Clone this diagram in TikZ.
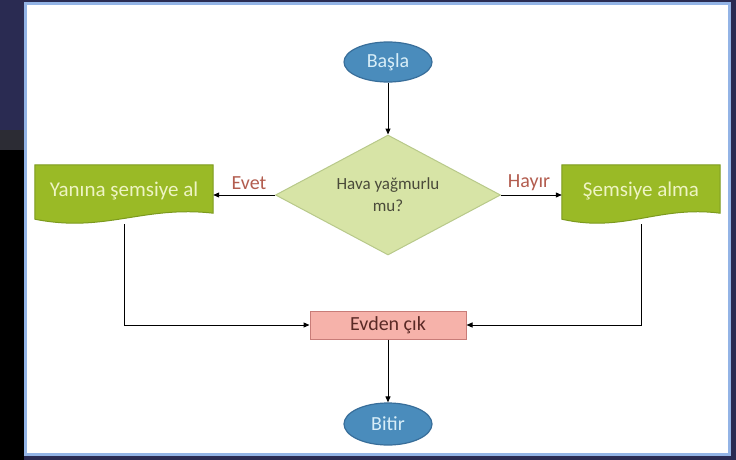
\documentclass[tikz,border=0pt]{standalone}
\usepackage{fontspec}
\setmainfont{Carlito}
\usetikzlibrary{shapes.geometric,arrows.meta,backgrounds}
\pgfdeclarelayer{bottom}
\pgfsetlayers{bottom,background,main}
\definecolor{navybg}{HTML}{2A2B52}
\definecolor{darkgr}{HTML}{2C2C34}
\definecolor{panelb}{HTML}{93B4E6}
\definecolor{ellfill}{HTML}{4A8CBC}
\definecolor{elldraw}{HTML}{386E9A}
\definecolor{elltext}{HTML}{D8EEF8}
\definecolor{diafill}{HTML}{D7E4A6}
\definecolor{diadraw}{HTML}{B8C98A}
\definecolor{diatext}{HTML}{4A4A3A}
\definecolor{grfill}{HTML}{9ABA26}
\definecolor{grdraw}{HTML}{7C9A1E}
\definecolor{grtext}{HTML}{EEF4C4}
\definecolor{pkfill}{HTML}{F6B2AA}
\definecolor{pkdraw}{HTML}{C87C78}
\definecolor{pktext}{HTML}{5A2A26}
\definecolor{lbl}{HTML}{B35D4F}
\begin{document}
\begin{tikzpicture}[x=1pt,y=-1pt,
  term/.style={ellipse,minimum width=88pt,minimum height=40pt,inner sep=0pt,
    fill=ellfill,draw=elldraw,line width=1.2pt,text=elltext,
    font=\fontsize{20}{20}\selectfont},
  decision/.style={diamond,aspect=1.875,minimum width=225pt,minimum height=120pt,inner sep=0pt,
    fill=diafill,draw=diadraw,line width=1pt,text=diatext,align=center,
    font=\fontsize{17}{22}\selectfont},
  doc/.style={rectangle,minimum height=52pt,inner sep=0pt,text=grtext,
    font=\fontsize{21}{21}\selectfont},
  docshape/.style={fill=grfill,draw=grdraw,line width=1pt},
  procbox/.style={rectangle,minimum width=156pt,minimum height=28pt,inner sep=0pt,
    fill=pkfill,draw=pkdraw,line width=1pt,text=pktext,
    font=\fontsize{20}{20}\selectfont},
  arr/.style={draw=black,line width=1pt,-{Triangle[length=6pt,width=5pt]}},
  elabel/.style={text=lbl,font=\fontsize{20}{20}\selectfont,inner sep=0pt}
]
\useasboundingbox (0,0) rectangle (736,460);
\begin{pgfonlayer}{bottom}
\fill[navybg] (0,0) rectangle (736,460);
\fill[darkgr] (0,130) rectangle (24,150);
\fill[black] (0,150) rectangle (24,460);
\draw[panelb,fill=white,line width=2.5pt] (25.5,3.5) rectangle (729.5,454.5);
\end{pgfonlayer}

\node[term] (start) at (388,62) {Başla};
\node[decision] (q) at (388,195) {Hava yağmurlu\\mu?};
\node[doc,minimum width=178pt] (yes) at (124,191) {Yanına şemsiye al};
\node[doc,minimum width=158pt] (no) at (641,191) {Şemsiye alma};
\node[procbox] (exit) at (388,325) {Evden çık};
\node[term,minimum height=42pt] (stop) at (388,424) {Bitir};

\begin{scope}[on background layer]
\path[docshape] (yes.north west) -- (yes.north east) -- ([yshift=4pt]yes.south east)
  .. controls +(-70pt,8pt) and +(70pt,-14pt) .. ([yshift=-2pt]yes.south west) -- cycle;
\path[docshape] (no.north west) -- (no.north east) -- ([yshift=4pt]no.south east)
  .. controls +(-62pt,8pt) and +(62pt,-14pt) .. ([yshift=-2pt]no.south west) -- cycle;
\end{scope}

\draw[arr] (start.south) -- (q.north);
\draw[arr] (q.west) -- (q.west -| yes.east);
\draw[arr] (q.east) -- (q.east -| no.west);
\node[elabel] (evet) at (249,183) {Evet};
\node[elabel] (hayir) at (529,183) {Hayır};
\draw[arr] ([yshift=-7pt]yes.south) |- (exit.west);
\draw[arr] ([yshift=-7pt]no.south) |- (exit.east);
\draw[arr] (exit.south) -- (stop.north);
\end{tikzpicture}
\end{document}
